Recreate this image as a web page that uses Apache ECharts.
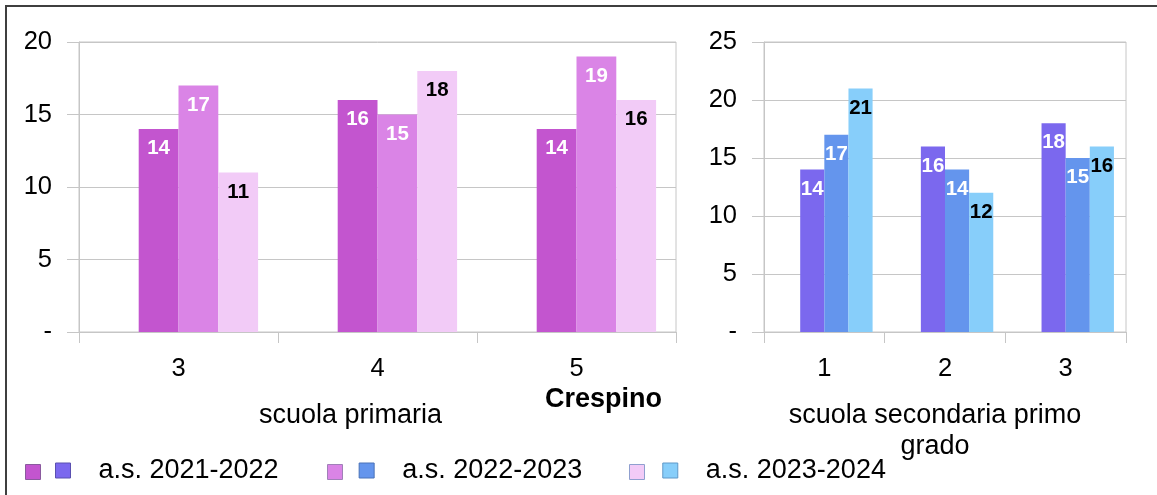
<!DOCTYPE html>
<html>
<head>
<meta charset="utf-8">
<script src="https://cdn.jsdelivr.net/npm/echarts@6/dist/echarts.min.js"></script>
<style>html,body{margin:0;padding:0;background:#fff}#c{width:1157px;height:495px}</style>
</head>
<body>
<div id="c"></div>
<script>
const years = ['a.s. 2021-2022', 'a.s. 2022-2023', 'a.s. 2023-2024'];
const primariaClassi = ['3', '4', '5'];
const primaria2122 = [14, 16, 14];
const primaria2223 = [17, 15, 19];
const primaria2324 = [11, 18, 16];
const secondariaClassi = ['1', '2', '3'];
const secondaria2122 = [14, 16, 18];
const secondaria2223 = [17, 14, 15];
const secondaria2324 = [21, 12, 16];
const yTicksLeft = [0, 20, 5];
const yTicksRight = [0, 25, 5];
const titleText = 'Crespino';
const axisNamePrimaria = 'scuola primaria';
const axisNameSecondaria = 'scuola secondaria primo\ngrado';

const FONT = 'Liberation Sans';
const GRID = '#c6c6c6';
const pinkColors = ['#c355cf', '#da84e6', '#f2cbf7'];
const blueColors = ['#7b68ee', '#6495ed', '#87cefa'];
const pinkBorders = ['#8a5a9e', '#a080b8', '#8f9fcf'];
const blueBorders = ['#5a50b0', '#4a72b8', '#5f98c8'];
const labelColors = ['#ffffff', '#ffffff', '#000000'];

const chart = echarts.init(document.getElementById('c'), null, {renderer: 'canvas'});

function yAxis(gridIndex, t) {
  return {
    type: 'value', gridIndex: gridIndex, min: t[0], max: t[1], interval: t[2],
    axisLine: {show: true, lineStyle: {color: GRID, width: 1}},
    axisTick: {show: true, length: 12, lineStyle: {color: GRID}},
    splitLine: {show: true, lineStyle: {color: GRID, width: 1}},
    axisLabel: {color: '#000', fontFamily: FONT, fontSize: 25.5, margin: 27,
      formatter: v => v === 0 ? '-' : String(v)}
  };
}
function xAxis(gridIndex, cats, name, padRight) {
  return {
    type: 'category', gridIndex: gridIndex, data: cats,
    axisLine: {show: true, lineStyle: {color: GRID, width: 1}},
    axisTick: {show: true, length: 11, interval: 0, lineStyle: {color: GRID}},
    axisLabel: {color: '#000', fontFamily: FONT, fontSize: 25.5, margin: 24},
    name: name, nameLocation: 'middle', nameGap: 68,
    nameTextStyle: {color: '#000', fontFamily: FONT, fontSize: 27, lineHeight: 31, padding: [0, padRight, 0, 0]}
  };
}
function barSeries(name, idx, data, color, labelColor) {
  return {
    type: 'bar', name: name, xAxisIndex: idx, yAxisIndex: idx, data: data,
    barGap: '0%', barCategoryGap: '20%',
    itemStyle: {color: color},
    label: {show: true, position: 'insideTop', distance: 9, color: labelColor,
      fontFamily: FONT, fontWeight: 'bold', fontSize: 20.5}
  };
}
const series = [];
series.push({type: 'bar', name: 'vuoto-p', xAxisIndex: 0, yAxisIndex: 0, data: ['-', '-', '-'], barGap: '0%', barCategoryGap: '20%'});
[primaria2122, primaria2223, primaria2324].forEach((d, i) => series.push(barSeries(years[i], 0, d, pinkColors[i], labelColors[i])));
series.push({type: 'bar', name: 'vuoto-s', xAxisIndex: 1, yAxisIndex: 1, data: ['-', '-', '-'], barGap: '0%', barCategoryGap: '20%'});
[secondaria2122, secondaria2223, secondaria2324].forEach((d, i) => series.push(barSeries(years[i], 1, d, blueColors[i], labelColors[i])));

chart.setOption({
  animation: false,
  textStyle: {fontFamily: FONT},
  title: {text: titleText, left: 545, top: 386, padding: 0, textStyle: {fontFamily: FONT, fontSize: 27, fontWeight: 'bold', color: '#000'}},
  grid: [
    {left: 79, right: 481, top: 42, bottom: 163, show: true, borderColor: GRID, borderWidth: 1},
    {left: 764, right: 31, top: 42, bottom: 163, show: true, borderColor: GRID, borderWidth: 1}
  ],
  xAxis: [xAxis(0, primariaClassi, axisNamePrimaria, 54), xAxis(1, secondariaClassi, axisNameSecondaria, 20)],
  yAxis: [yAxis(0, yTicksLeft), yAxis(1, yTicksRight)],
  legend: [
    {left: 25, top: 464, orient: 'horizontal', itemWidth: 15, itemHeight: 15, itemGap: 286, padding: 0,
     icon: 'rect', formatter: () => '', selectedMode: false,
     data: years.map((y, i) => ({name: y, itemStyle: {color: pinkColors[i], borderColor: pinkBorders[i], borderWidth: 1}}))},
    {left: 55, top: 457, orient: 'horizontal', itemWidth: 15, itemHeight: 15, itemGap: 80, padding: 0,
     icon: 'rect', selectedMode: false,
     textStyle: {fontFamily: FONT, fontSize: 27, color: '#000', padding: [0, 0, 0, 23]},
     data: years.map((y, i) => ({name: y, itemStyle: {color: blueColors[i], borderColor: blueBorders[i], borderWidth: 1}}))}
  ],
  graphic: [{type: 'rect', shape: {x: 6, y: 6, width: 1300, height: 700}, style: {fill: 'none', stroke: '#3f3f3f', lineWidth: 2}, silent: true}],
  series: series
});
</script>
</body>
</html>
